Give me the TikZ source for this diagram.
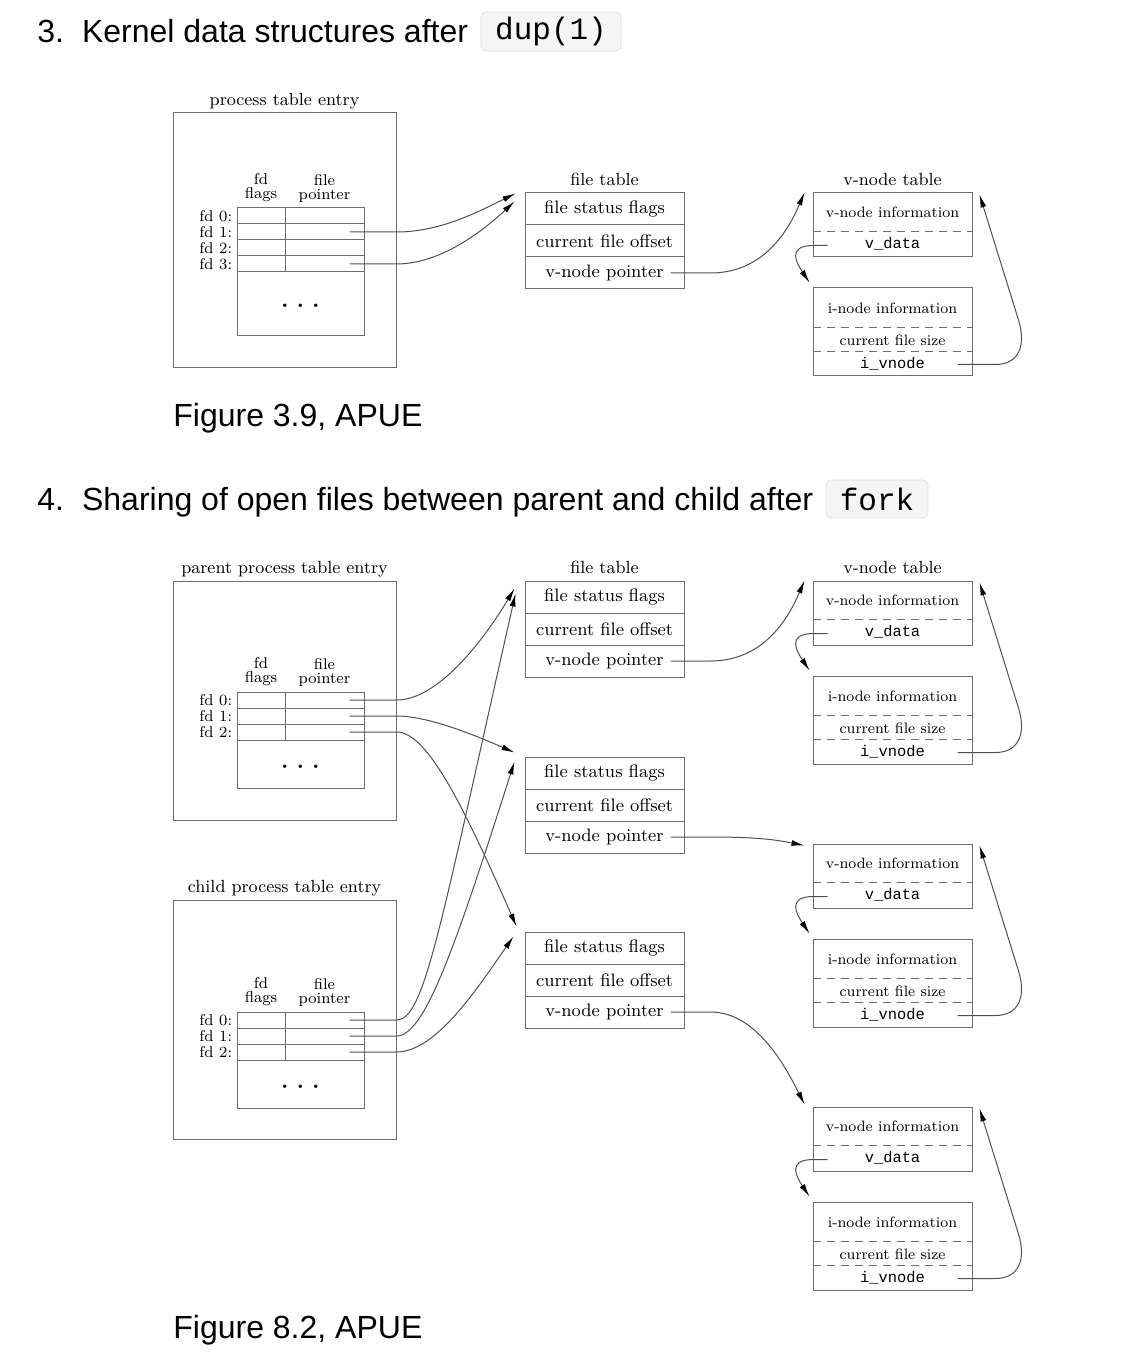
\documentclass[tikz,border=0pt]{standalone}
\usepackage{fontspec}
\setmonofont{Liberation Mono}
\newfontfamily\headfont{Liberation Sans}
\usetikzlibrary{arrows.meta,calc,positioning}
\definecolor{Rim}{HTML}{6E6E6E}
\definecolor{Wire}{HTML}{505050}
\definecolor{CodeFill}{HTML}{F5F5F5}
\definecolor{CodeRim}{HTML}{E1E1E1}
\newcommand\threedots{\raisebox{-4pt}{\textbf{.}\hspace{4pt}\textbf{.}\hspace{4pt}\textbf{.}}}

\begin{document}
\begin{tikzpicture}[x=.5pt,y=-.5pt,
    head/.style={font=\headfont\fontsize{16}{19}\selectfont,anchor=base west,inner sep=0pt},
    code/.style={draw=CodeRim,fill=CodeFill,rounded corners=2.5pt,inner sep=0pt,font=\ttfamily\fontsize{15.5}{18}\selectfont},
    toplabel/.style={font=\fontsize{8.8}{10}\selectfont,anchor=base,inner sep=0pt},
    box/.style={draw=Rim,line width=.5pt,inner sep=0pt},
    cell/.style={box,minimum height=8pt},
    dotsbox/.style={box,minimum width=63.5pt,font=\fontsize{12}{14}\selectfont},
    ftrow/.style={box,minimum width=79.5pt,minimum height=16pt,font=\fontsize{9}{11}\selectfont},
    small/.style={font=\fontsize{7.8}{7}\selectfont,inner sep=0pt,align=center},
    vtext/.style={font=\fontsize{7.5}{9}\selectfont,inner sep=0pt},
    vmono/.style={font=\ttfamily\fontsize{7.7}{9}\selectfont,inner sep=0pt},
    dashsep/.style={draw=Rim,line width=.5pt,dash pattern=on 4pt off 3pt},
    wire/.style={draw=Wire,line width=.5pt,-{Latex[length=6.5pt,width=3pt,color=black]}},
  ]
  \useasboundingbox (0,0) rectangle (1136,1368);

  % headings and captions
  \node[head] (h3) at (37,43) {3.\hspace{9pt}Kernel data structures after};
  \node[code,minimum width=70pt,minimum height=19.5pt] (dup) at (551,31.5) {dup(1)};
  \node[head] (fig39) at (173,427) {Figure 3.9, APUE};
  \node[head] (h4) at (37,510) {4.\hspace{9pt}Sharing of open files between parent and child after};
  \node[code,minimum width=51pt,minimum height=19pt] (fork) at (877,499) {fork};
  \node[head] (fig82) at (173,1338) {Figure 8.2, APUE};

  % process table entries
  \node[box,minimum width=111.5pt,minimum height=127.5pt] (pa) at (284.5,240.5) {};
  \node[toplabel] at ([yshift=3.5pt]pa.north) {process table entry};
  \foreach \i/\y in {0/216,1/232,2/248,3/264}{
    \node[cell,minimum width=24pt] (pafl\i) at (261,\y) {};
    \node[cell,minimum width=39.5pt] (papt\i) at (324.5,\y) {};
    \node[small,anchor=east] at ([xshift=-2pt]pafl\i.west) {fd \i:};
  }
  \node[small,anchor=south] at ([yshift=2.5pt]pafl0.north) {fd\\flags};
  \node[small,anchor=south] at ([yshift=2.5pt]papt0.north) {file\\pointer};
  \node[dotsbox,minimum height=32pt] (padots) at (300.5,304) {\threedots};

  \node[box,minimum width=111.5pt,minimum height=119.5pt] (pb) at (284.5,700.5) {};
  \node[toplabel] at ([yshift=3.5pt]pb.north) {parent process table entry};
  \node[box,minimum width=111.5pt,minimum height=119.5pt] (pc) at (284.5,1019.5) {};
  \node[toplabel] at ([yshift=3.5pt]pc.north) {child process table entry};
  \foreach \p/\t in {b/692,c/1012}{
    \foreach \i in {0,1,2}{
      \node[cell,minimum width=24pt] (p\p fl\i) at (261,\t+8+16*\i) {};
      \node[cell,minimum width=39.5pt] (p\p pt\i) at (324.5,\t+8+16*\i) {};
      \node[small,anchor=east] at ([xshift=-2pt]p\p fl\i.west) {fd \i:};
    }
    \node[small,anchor=south] at ([yshift=2.5pt]p\p fl0.north) {fd\\flags};
    \node[small,anchor=south] at ([yshift=2.5pt]p\p pt0.north) {file\\pointer};
    \node[dotsbox,minimum height=24pt] (p\p dots) at (300.5,\t+72) {\threedots};
  }

  % file tables
  \foreach \f/\t in {a/193,b/581,c/757,d/932}{
    \node[ftrow] (fs\f) at (604.5,\t+16) {file status flags};
    \node[ftrow] (fo\f) at (604.5,\t+48) {current file offset};
    \node[ftrow] (fp\f) at (604.5,\t+80) {v-node pointer};
  }

  % v-node / i-node pairs
  \foreach \g/\t in {a/193,b/581,c/844,d/1107}{
    \node[box,minimum width=79.5pt,minimum height=32pt] (vn\g) at (892.5,\t+32) {};
    \node[vtext] (vi\g) at (892.5,\t+19) {v-node information};
    \node[vmono] (vd\g) at (892.5,\t+51) {v\_data};
    \draw[dashsep] ([yshift=-19.5pt]vn\g.north west) -- ([yshift=-19.5pt]vn\g.north east);
    \node[box,minimum width=79.5pt,minimum height=44pt] (in\g) at (892.5,\t+139) {};
    \node[vtext] (ii\g) at (892.5,\t+115) {i-node information};
    \node[vtext] (cs\g) at (892.5,\t+147) {current file size};
    \node[vmono] (iv\g) at (892.5,\t+171) {i\_vnode};
    \draw[dashsep] ([yshift=-20pt]in\g.north west) -- ([yshift=-20pt]in\g.north east);
    \draw[dashsep] ([yshift=-32pt]in\g.north west) -- ([yshift=-32pt]in\g.north east);
    \draw[wire] ([shift={(15,-12)}]vn\g.south west) -- ++(-14,0)
      .. controls +(-28,0) and +(-12,-18) .. ([shift={(-3,-5)}]in\g.north west);
    \draw[wire] ([shift={(-15,-12)}]in\g.south east) -- ++(38,0)
      .. controls +(23,0) and +(8,26) .. ([shift={(46,-12)}]in\g.east)
      -- ([shift={(7,2)}]vn\g.north east);
  }
  \node[toplabel] at ([yshift=3.5pt]fsa.north) {file table};
  \node[toplabel] at ([yshift=3.5pt]vna.north) {v-node table};
  \node[toplabel] at ([yshift=3.5pt]fsb.north) {file table};
  \node[toplabel] at ([yshift=3.5pt]vnb.north) {v-node table};

  % descriptors to file table entries
  \draw[wire] ([xshift=-7.5pt]papt1.east) -- (pa.east |- papt1)
    .. controls +(45,0) and +(-35,17) .. ([shift={(-9,1)}]fsa.north west);
  \draw[wire] ([xshift=-7.5pt]papt3.east) -- (pa.east |- papt3)
    .. controls +(45,0) and +(-30,28) .. ([shift={(-10,9)}]fsa.north west);
  \draw[wire] ([xshift=-7.5pt]pbpt0.east) -- (pb.east |- pbpt0)
    .. controls +(45,0) and +(-25,42) .. ([shift={(-10,8)}]fsb.north west);
  \draw[wire] ([xshift=-7.5pt]pbpt1.east) -- (pb.east |- pbpt1)
    .. controls +(35,0) and +(-30,-13) .. ([shift={(-10,-4)}]fsc.north west);
  \draw[wire] ([xshift=-7.5pt]pbpt2.east) -- (pb.east |- pbpt2)
    .. controls +(30,0) and +(-55,-125) .. ([shift={(-8,-5)}]fsd.north west);
  \draw[wire] ([xshift=-7.5pt]pcpt0.east) -- (pc.east |- pcpt0)
    .. controls +(28,0) and +(-76,336) .. ([shift={(-9,13)}]fsb.north west);
  \draw[wire] ([xshift=-7.5pt]pcpt1.east) -- (pc.east |- pcpt1)
    .. controls +(28,0) and +(-60,188) .. ([shift={(-10,5)}]fsc.north west);
  \draw[wire] ([xshift=-7.5pt]pcpt2.east) -- (pc.east |- pcpt2)
    .. controls +(40,0) and +(-35,50) .. ([shift={(-11,5)}]fsd.north west);

  % file table entries to v-nodes
  \draw[wire] ([xshift=-7pt]fpa.east) -- ++(40,0)
    .. controls +(55,0) and +(-15,35) .. ([xshift=-4pt]vna.north west);
  \draw[wire] ([xshift=-7pt]fpb.east) -- ++(40,0)
    .. controls +(55,0) and +(-15,35) .. ([xshift=-4pt]vnb.north west);
  \draw[wire] ([xshift=-7pt]fpc.east) -- ++(40,0)
    .. controls +(45,0) and +(-30,-6) .. ([shift={(-8,2)}]vnc.north west);
  \draw[wire] ([xshift=-7pt]fpd.east) -- ++(40,0)
    .. controls +(45,0) and +(-20,-40) .. ([shift={(-8,-2)}]vnd.north west);
\end{tikzpicture}
\end{document}
